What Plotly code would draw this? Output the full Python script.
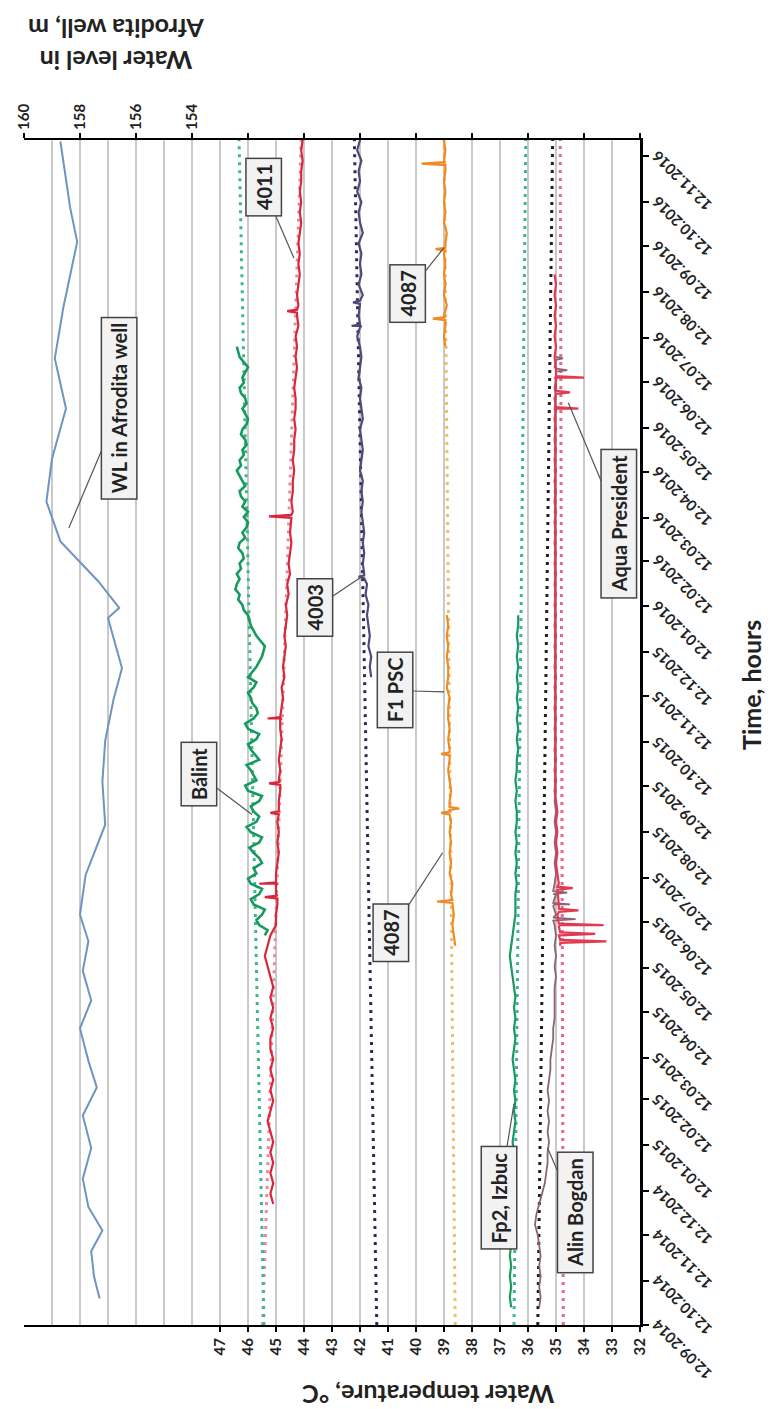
import plotly.graph_objects as go
import pandas as pd

FONT = "Lato"

# ---------------- data ----------------
# Water level in Afrodita well (m)
WL_dates = ["2014-09-30", "2014-10-15", "2014-11-01", "2014-11-15", "2014-12-01", "2014-12-20",
            "2015-01-10", "2015-02-01", "2015-02-20", "2015-03-10", "2015-04-01", "2015-04-20",
            "2015-05-10", "2015-05-30", "2015-06-17", "2015-07-14", "2015-08-17", "2015-09-15",
            "2015-10-13", "2015-11-10", "2015-12-01", "2016-01-04", "2016-01-11", "2016-01-29",
            "2016-02-25", "2016-03-18", "2016-03-23", "2016-04-21", "2016-05-25", "2016-06-28",
            "2016-08-01", "2016-09-15", "2016-10-08", "2016-11-22"]
WL_vals = [157.3, 157.5, 157.6, 157.2, 157.7, 157.9,
           157.6, 157.9, 157.4, 157.7, 158.0, 157.6,
           157.9, 157.7, 158.0, 157.8, 157.1, 157.2,
           157.1, 156.8, 156.5, 157.0, 156.6, 157.35,
           158.7, 159.1, 159.2, 159.0, 158.5, 158.9,
           158.6, 158.1, 158.35, 158.7]

# Bálint, every 3.5 days
BAL_start = "2015-06-03"
BAL_vals = [45.4, 45.3, 45.6, 45.7, 45.5, 45.4, 45.8, 45.9, 45.6, 45.5,
            45.9, 46.0, 45.7, 45.8, 45.5, 45.6, 45.8, 45.95, 45.6, 45.5,
            45.9, 46.05, 45.7, 45.6, 45.8, 45.9, 45.6, 45.5, 46.0, 46.1,
            45.7, 45.8, 45.9, 46.05, 45.6, 45.75, 45.9, 46.0, 45.7, 45.6,
            46.0, 46.1, 45.8, 45.65, 45.7, 45.85, 45.9, 46.0, 45.8, 45.7,
            46.0, 45.85, 45.7, 45.6, 45.5, 45.45, 45.4, 45.55, 45.7, 45.8,
            45.9, 45.95, 46.0, 46.15, 46.2, 46.35, 46.3, 46.45, 46.4, 46.3,
            46.4, 46.25, 46.3, 46.15, 46.2, 46.35, 46.3, 46.1, 46.2, 46.05,
            46.0, 46.15, 46.0, 46.2, 46.1, 46.25, 46.3, 46.1, 46.2, 46.3,
            46.4, 46.25, 46.3, 46.15, 46.2, 46.05, 46.1, 46.25, 46.2, 46.05,
            46.0, 46.1, 46.2, 46.05, 46.1, 46.25, 46.3, 46.15, 46.2, 46.1,
            46.0, 46.15, 46.3, 46.35, 46.4]

R4011_start = "2014-12-03"
R4011_vals = [45.1, 45.2, 45.1, 45.2, 45.1,
              45.2, 45.1, 45.2, 45.3,
              45.2, 45.1, 45.2, 45.1,
              45.2, 45.1, 45.2, 45.2,
              45.1, 45.2, 45.1, 45.2, 45.1,
              45.2, 45.3, 45.4, 45.3,
              45.2, 45.0, 45.0, 44.95,
              45.0, 44.95, 45.0, 44.95, 44.9,
              44.95, 44.9, 44.95, 44.9,
              44.9, 44.85, 44.9, 44.85, 44.9,
              44.85, 44.8, 44.85, 44.8,
              44.8, 44.75, 44.8, 44.7,
              44.75, 44.7, 44.65, 44.7, 44.65,
              44.6, 44.65, 44.55, 44.6,
              44.5, 44.55, 44.5, 44.45,
              44.5, 44.45, 44.4, 44.45, 44.4,
              44.4, 44.35, 44.4, 44.35,
              44.35, 44.3, 44.35, 44.3,
              44.3, 44.35, 44.3, 44.25, 44.3,
              44.25, 44.3, 44.2, 44.25,
              44.2, 44.25, 44.2, 44.15, 44.2,
              44.15, 44.2, 44.15, 44.1,
              44.15, 44.1, 44.15, 44.1,
              44.1, 44.05, 44.1, 44.05]
# spikes: (date, base, peak)
R4011_spikes = [("2015-06-29", 44.95, 45.4), ("2015-07-08", 45.0, 45.6), ("2015-08-25", 44.9, 45.2),
                ("2015-09-14", 44.85, 45.25), ("2015-10-28", 44.85, 45.3), ("2016-03-13", 44.45, 45.25),
                ("2016-07-30", 44.25, 44.6)]

D4003_start = "2015-11-25"
D4003_vals = [41.6,
              41.65, 41.6, 41.7, 41.65, 41.7,
              41.75, 41.7, 41.8, 41.75,
              41.85, 41.9, 41.85, 41.9,
              41.85, 41.9, 41.95, 41.9, 41.95,
              41.9, 42.0, 41.95, 41.9,
              41.95, 42.0, 41.9, 41.95,
              42.0, 41.95, 42.05, 42.0, 41.95,
              42.0, 42.1, 41.95, 42.05,
              42.0, 41.9, 42.05, 41.95, 42.0,
              41.95, 42.05, 41.9, 42.0,
              42.05, 41.95, 42.1, 42.0,
              42.05, 41.95, 42.1, 42.0]
D4003_spikes = [("2016-07-20", 42.0, 42.3), ("2016-08-05", 42.0, 42.25), ("2016-02-01", 41.85, 42.05)]

O4087a_start = "2015-05-27"
O4087a_vals = [38.6, 38.65, 38.7, 38.65, 38.7,
               38.75, 38.7, 38.8, 38.75, 38.8,
               38.75, 38.8, 38.75, 38.8,
               38.8, 38.75, 38.8, 38.85, 38.8,
               38.8, 38.85, 38.8, 38.85,
               38.85, 38.8, 38.9, 38.85,
               38.85, 38.9, 38.85, 38.9, 38.85,
               38.9]
O4087a_spikes = [("2015-06-26", 38.7, 39.25), ("2015-08-25", 38.8, 39.1), ("2015-08-28", 38.8, 38.45),
                 ("2015-10-04", 38.8, 39.1)]
O4087b_start = "2016-07-06"
O4087b_vals = [38.95, 39.0, 38.95, 39.0, 38.9, 39.0, 38.95, 39.0, 38.95, 39.0, 38.95,
               38.9, 39.0, 38.95, 39.0, 38.95, 39.0, 38.95, 39.0, 38.95, 39.0]
O4087b_spikes = [("2016-07-25", 38.95, 39.4), ("2016-09-10", 38.95, 39.3), ("2016-11-07", 38.95, 39.8)]

FP2_start = "2014-09-24"
FP2_vals = [36.6, 36.65, 36.6, 36.65, 36.6, 36.65, 36.6, 36.65, 36.55, 36.6,
            36.55, 36.6, 36.55, 36.5, 36.55,
            36.5, 36.55, 36.5, 36.45, 36.5, 36.45, 36.5, 36.45,
            36.5, 36.55, 36.5, 36.45, 36.5, 36.45, 36.5, 36.45, 36.5,
            36.55, 36.6, 36.65, 36.6, 36.55, 36.5, 36.45, 36.45,
            36.45, 36.4, 36.45, 36.4, 36.45, 36.4, 36.45, 36.4, 36.4,
            36.45, 36.4, 36.45, 36.4, 36.4, 36.35, 36.4, 36.35, 36.4,
            36.35, 36.4, 36.35, 36.4, 36.35, 36.4, 36.35, 36.4, 36.35, 36.35]

AB_start = "2014-09-24"
AB_vals = [35.6, 35.55, 35.6, 35.55, 35.6, 35.55, 35.6, 35.65, 35.75, 35.7,
           35.6, 35.5, 35.4, 35.35, 35.3, 35.3, 35.25, 35.3, 35.25, 35.3,
           35.25, 35.3, 35.25, 35.2, 35.2, 35.15, 35.1, 35.1, 35.05, 35.05,
           35.05, 35.05, 35.0, 35.05, 35.0, 35.05, 35.0, 35.05, 35.0, 35.05,
           35.0, 35.05, 35.0, 35.05, 35.0, 35.05, 35.0, 35.05, 35.0, 35.05,
           35.0, 35.05, 35.0, 35.05, 35.0, 35.05, 35.0, 35.05, 35.0, 35.05,
           35.0, 35.05, 35.0, 35.05, 35.0, 35.05, 35.0, 35.05, 35.0, 35.05,
           35.0, 35.05, 35.0, 35.05, 35.0, 35.05, 35.0, 35.05, 35.0, 35.05,
           35.0, 35.05, 35.0, 35.05, 35.0, 35.05, 35.0, 35.05, 35.0, 35.05,
           35.0, 35.05]
AB_spikes = [("2015-06-14", 35.1, 34.3), ("2015-06-24", 35.1, 34.5), ("2015-07-02", 35.1, 34.6),
             ("2016-06-20", 35.0, 34.6), ("2016-06-28", 35.0, 34.75)]

AP_start = "2015-05-27"
AP_vals = [34.85, 34.9, 34.85, 34.95, 34.9, 34.95, 34.9, 34.95, 35.0, 34.95,
           35.0, 34.95, 35.0, 34.95, 35.0, 35.05, 35.0, 35.05, 35.0, 35.05,
           35.0, 35.05, 35.0, 35.05, 35.0, 35.05, 35.0, 35.05, 35.0, 35.05,
           35.0, 35.05, 35.0, 35.05, 35.0, 35.05, 35.0, 35.05, 35.0, 35.05,
           35.0, 35.05, 35.0, 35.05, 35.0, 35.05, 35.0, 35.05, 35.0, 35.05,
           35.0, 35.05, 35.0, 35.05, 35.0, 35.05, 35.0, 35.05, 35.0, 35.05,
           35.0, 35.05, 35.0, 35.05, 35.0, 35.05]
AP_spikes = [("2015-05-30", 34.85, 33.2), ("2015-06-04", 34.85, 33.6), ("2015-06-10", 34.9, 33.3),
             ("2015-06-20", 34.9, 34.2), ("2015-07-05", 34.95, 34.4), ("2016-05-25", 35.0, 34.2),
             ("2016-06-05", 35.0, 34.5), ("2016-06-15", 35.0, 34.0)]

# trend lines (value at start / end of time axis)
TREND_dates = ["2014-09-12", "2016-11-23"]
TREND = {
    "4011": ([45.48, 44.1], "#e88a9c"),
    "Bálint": ([45.43, 46.32], "#3cb88e"),
    "4003": ([41.4, 42.2], "#2b2b55"),
    "4087": ([38.6, 39.0], "#f0c060"),
    "Fp2, Izbuc": ([36.5, 36.08], "#3ab5a0"),
    "Alin Bogdan": ([35.65, 35.12], "#202020"),
    "Aqua President": ([34.74, 34.85], "#e46a86"),
}

TEMP_TICKS = list(range(32, 48))
WL_TICKS = list(range(138, 161, 2))
WL_LABELS = [160, 158, 156, 154]
TIME_TICKS = pd.date_range("2014-09-01", "2016-11-01", freq="MS") + pd.Timedelta(days=11)

# ---------------- helpers ----------------
def series(start, vals, spikes=(), freq="7D"):
    d = list(pd.date_range(start, periods=len(vals), freq=freq))
    v = list(vals)
    for ds, base, peak in spikes:
        t = pd.Timestamp(ds)
        d += [t - pd.Timedelta(days=1), t, t + pd.Timedelta(days=1)]
        v += [base, peak, base]
    order = sorted(range(len(d)), key=lambda i: d[i])
    return [v[i] for i in order], [d[i] for i in order]

fig = go.Figure()

for name, (vals, col) in TREND.items():
    fig.add_trace(go.Scatter(x=vals, y=TREND_dates, mode="lines",
                             line=dict(color=col, width=3, dash="3px,5px"),
                             showlegend=False, hoverinfo="skip"))

def add(vals_dates, color, width=2.2, xaxis="x"):
    v, d = vals_dates
    fig.add_trace(go.Scatter(x=v, y=d, mode="lines", line=dict(color=color, width=width),
                             xaxis=xaxis, showlegend=False))

add((WL_vals, WL_dates), "#6f94c0", 2, "x2")
add(series(FP2_start, FP2_vals), "#1a9a5e")
add(series(AB_start, AB_vals, AB_spikes), "#8c6475", 1.8)
add(series(AP_start, AP_vals, AP_spikes), "#e33a52")
add(series(O4087a_start, O4087a_vals, O4087a_spikes), "#f08a24")
add(series(O4087b_start, O4087b_vals, O4087b_spikes), "#f08a24")
add(series(D4003_start, D4003_vals, D4003_spikes), "#4d4a7c")
add(series(R4011_start, R4011_vals, R4011_spikes), "#d9263b")
add(series(BAL_start, BAL_vals, freq="84h"), "#179a5f", 2.6)

# ---------------- axes ----------------
grid = "#c9c9c9"
fig.update_layout(
    template="none",
    width=774, height=1409,
    margin=dict(l=16, r=142, t=132, b=92),
    paper_bgcolor="white", plot_bgcolor="white",
    font=dict(family=FONT, color="#222222"),
    xaxis=dict(range=[54, 32], tickvals=TEMP_TICKS, ticks="outside", ticklen=5, tickwidth=1.5,
               tickcolor="black", tickangle=-90, tickfont=dict(size=15, weight="bold"),
               showgrid=True, gridcolor=grid, gridwidth=1.5,
               minor=dict(dtick=1, tick0=32, showgrid=True, gridcolor=grid, gridwidth=1.5, ticks=""),
               showline=True, linecolor="black", linewidth=2, zeroline=False, automargin=False),
    xaxis2=dict(range=[160, 138], overlaying="x", side="top", tickvals=WL_TICKS,
                ticktext=[str(t) if t in WL_LABELS else "" for t in WL_TICKS],
                ticks="outside", ticklen=5, tickwidth=1.5, tickcolor="black", tickangle=-90,
                tickfont=dict(size=15, weight="bold"), showgrid=False,
                showline=True, linecolor="black", linewidth=2, zeroline=False, automargin=False),
    yaxis=dict(type="date", range=["2014-09-12", "2016-11-23"], side="right",
               tickvals=TIME_TICKS, showticklabels=False, ticks="outside", ticklen=6,
               tickwidth=1.5, tickcolor="black", showgrid=False,
               showline=True, linecolor="black", linewidth=2.5, zeroline=False, automargin=False),
)

ann = []
# time tick labels (rotated like the reference)
for t in TIME_TICKS:
    ann.append(dict(x=1, xref="paper", y=t, yref="y", text=t.strftime("%d.%m.%Y"),
                    showarrow=False, textangle=-135, xanchor="center", yanchor="middle",
                    xshift=42, yshift=-25, font=dict(size=15, weight="bold", color="#222")))

# axis titles
ann.append(dict(x=0.656, xref="paper", y=-0.059, yref="paper", text="<b>Water temperature, °C</b>",
                xanchor="center", yanchor="middle",
                showarrow=False, textangle=180, font=dict(size=25, color="#222")))
ann.append(dict(x=0.15, xref="paper", y=1.08, yref="paper",
                text="<b>Water level in<br>Afrodita well, m</b>", xanchor="center", yanchor="middle",
                showarrow=False, textangle=180, font=dict(size=25, color="#222")))
ann.append(dict(x=1.18, xref="paper", y=0.54, yref="paper", text="<b>Time, hours</b>",
                xanchor="center", yanchor="middle",
                showarrow=False, textangle=-90, font=dict(size=25, color="#222")))

# callouts: (text, tip T, tip date, box T, box date)
CALLOUTS = [
    ("WL in Afrodita well", 52.4, "2016-03-05", 50.6, "2016-05-25"),
    ("4011", 44.36, "2016-09-04", 45.45, "2016-10-22"),
    ("Bálint", 45.86, "2015-08-24", 47.75, "2015-09-20"),
    ("4003", 41.94, "2016-02-01", 43.6, "2016-01-11"),
    ("F1 PSC", 39.0, "2015-11-15", 40.75, "2015-11-16"),
    ("4087", 39.05, "2015-07-29", 40.9, "2015-06-05"),
    ("4087", 39.0, "2016-09-11", 40.3, "2016-08-11"),
    ("Fp2, Izbuc", 36.5, "2015-02-09", 37.05, "2014-12-07"),
    ("Alin Bogdan", 35.3, "2015-01-10", 34.3, "2014-11-27"),
    ("Aqua President", 34.56, "2016-05-29", 32.75, "2016-03-08"),
]
for text, tx, td, bx, bd in CALLOUTS:
    ann.append(dict(x=tx, y=td, xref="x", yref="y", ax=bx, ay=bd, axref="x", ayref="y",
                    text=text, textangle=-90, showarrow=True, arrowhead=0, arrowwidth=1.2,
                    arrowcolor="#555", bgcolor="#f2f2f2", bordercolor="#444", borderwidth=1.5,
                    borderpad=5, font=dict(size=20, weight="bold", color="#222")))

fig.update_layout(annotations=ann)
fig.write_html("out.html")
